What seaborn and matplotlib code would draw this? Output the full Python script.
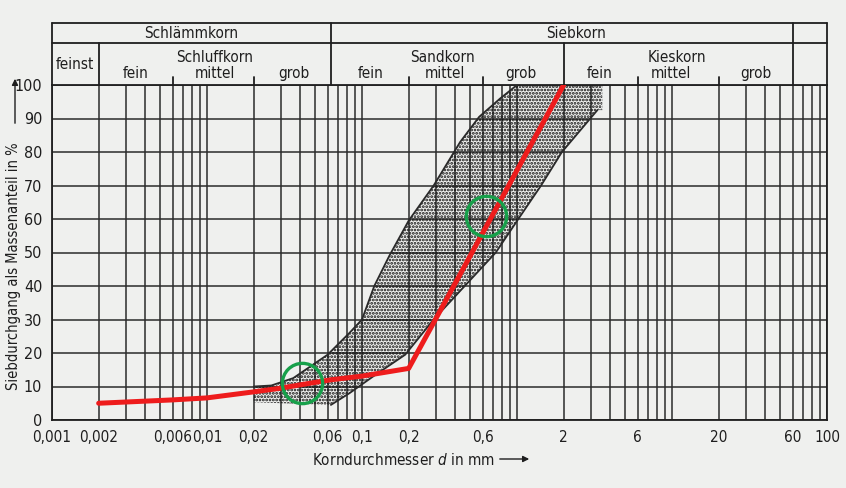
import matplotlib
matplotlib.use("Agg")
import numpy as np
import pandas as pd
import matplotlib.pyplot as plt
from matplotlib.ticker import LogLocator, NullFormatter
import seaborn as sns

# Sieblinie der Probe (rot)
curve_d = [0.002, 0.006, 0.01, 0.02, 0.03, 0.04, 0.063, 0.1, 0.2, 2.0]
curve_p = [5.0, 6.0, 6.6, 8.4, 9.5, 10.5, 12.0, 13.1, 15.4, 100.0]

# Grenzlinien des gerasterten Bereichs
upper_d = [0.02, 0.026, 0.036, 0.06, 0.083, 0.1, 0.12, 0.15, 0.2, 0.29, 0.43, 0.57, 0.78, 1.0]
upper_p = [10.0, 10.3, 12.5, 19.5, 26.0, 30.0, 40.0, 49.0, 59.5, 70.0, 83.0, 90.5, 96.0, 100.0]
lower_d = [0.063, 0.083, 0.118, 0.19, 0.29, 0.46, 0.73, 1.02, 1.43, 1.95, 3.3]
lower_p = [4.5, 8.0, 13.0, 19.5, 30.0, 40.0, 50.0, 60.0, 70.0, 80.0, 92.5]
band_right = 3.55
band_bottom = 5.3

# markierte Punkte (gruene Kreise)
circle_d = [0.041, 0.63]
circle_p = [11.0, 61.0]

x_ticks = [0.001, 0.002, 0.006, 0.01, 0.02, 0.06, 0.1, 0.2, 0.6, 2, 6, 20, 60, 100]
x_labels = ["0,001", "0,002", "0,006", "0,01", "0,02", "0,06", "0,1", "0,2",
            "0,6", "2", "6", "20", "60", "100"]
y_ticks = list(range(0, 101, 10))

# Kopfzeilen der Kornfraktionen
row1_labels = ["Schlämmkorn", "Siebkorn"]
row1_pos = [0.0079, 2.4]
row2_labels = ["Schluffkorn", "Sandkorn", "Kieskorn"]
row2_pos = [0.0112, 0.33, 10.8]
row3_labels = ["fein", "mittel", "grob", "fein", "mittel", "grob", "fein", "mittel", "grob"]
row3_pos = [0.00345, 0.0112, 0.0365, 0.113, 0.345, 1.06, 3.43, 9.8, 34.7]
full_bounds = [0.063, 60]
half_bounds = [0.002, 2]
sub_ticks = [0.006, 0.02, 0.2, 0.6, 6, 20]

sns.set_theme(style="white")
plt.rcParams["font.family"] = ["DejaVu Sans"]
plt.rcParams["font.stretch"] = "condensed"
plt.rcParams["hatch.linewidth"] = 1.35
bg = "#eff0ee"
ink = "#1e1e1e"
fs = 11

fig = plt.figure(figsize=(8.46, 4.88), dpi=100, facecolor=bg)
ax = fig.add_axes([52 / 846, 68 / 488, 775 / 846, 335 / 488])
ax.set_facecolor(bg)

ax.set_xscale("log")
ax.set_xlim(0.001, 100)
ax.set_ylim(0, 100)
ax.set_xticks(x_ticks)
ax.set_xticklabels(x_labels, fontsize=11)
ax.xaxis.set_minor_locator(LogLocator(base=10, subs=np.arange(1, 10), numticks=20))
ax.xaxis.set_minor_formatter(NullFormatter())
ax.set_yticks(y_ticks)
ax.set_yticklabels([str(v) for v in y_ticks], fontsize=11.5)
ax.tick_params(axis="x", which="both", length=0, pad=7, colors=ink)
ax.tick_params(axis="y", which="both", length=0, pad=7, colors=ink)
ax.grid(which="both", axis="x", color="#2b2b2b", lw=1.1)
ax.grid(which="major", axis="y", color="#2b2b2b", lw=1.1)
for sp in ax.spines.values():
    sp.set_color(ink)
    sp.set_linewidth(1.3)

# gerasterter Bereich
band_x = upper_d + [band_right, band_right] + lower_d[::-1] + [0.02]
band_y = upper_p + [100, lower_p[-1]] + lower_p[::-1] + [band_bottom]
ax.fill(band_x, band_y, facecolor="none", edgecolor="#111111", hatch=".....", lw=0, zorder=2)
ax.plot(upper_d, upper_p, color="#2a2a2a", lw=1.3, zorder=3)
ax.plot(lower_d, lower_p, color="#2a2a2a", lw=1.3, zorder=3)

# Sieblinie
df = pd.DataFrame({"d": curve_d, "p": curve_p})
sns.lineplot(data=df, x="d", y="p", sort=False, color="#ee1c1c", lw=3.6, ax=ax, zorder=4)
ax.plot(circle_d, circle_p, ls="none", marker="o", ms=29, mfc="none",
        mec="#17a04a", mew=2.4, zorder=5)
ax.set_xlabel("")
ax.set_ylabel("")

# Kopf der Tabelle
tr = ax.get_xaxis_transform()
y_top, y_mid = 1.185, 1.1254
kw = dict(transform=tr, clip_on=False, color=ink, lw=1.3)
ax.plot([0.001, 100], [y_top, y_top], **kw)
ax.plot([0.001, 100], [y_mid, y_mid], **kw)
for xb in [0.001, 100] + full_bounds:
    ax.plot([xb, xb], [1.0, y_top], **kw)
for xb in half_bounds:
    ax.plot([xb, xb], [1.0, y_mid], **kw)
for xb in sub_ticks:
    ax.plot([xb, xb], [1.0, 1.024], **kw)

hkw = dict(transform=tr, ha="center", va="center", fontsize=fs, color=ink)
for lab, xp in zip(row1_labels, row1_pos):
    ax.text(xp, 1.155, lab, **hkw)
for lab, xp in zip(row2_labels, row2_pos):
    ax.text(xp, 1.081, lab, **hkw)
for lab, xp in zip(row3_labels, row3_pos):
    ax.text(xp, 1.035, lab, **hkw)
ax.text(0.00141, 1.06, "feinst", **hkw)

# Achsentitel mit Pfeilen
fig.text(14 / 846, 1 - 266 / 488, "Siebdurchgang als Massenanteil in %", rotation=90,
         ha="center", va="center", fontsize=10.5, color=ink)
ax.annotate("", xy=(15 / 846, 1 - 76 / 488), xytext=(15 / 846, 1 - 126 / 488),
            xycoords="figure fraction", textcoords="figure fraction",
            arrowprops=dict(arrowstyle="-|>", lw=1.0, color=ink, mutation_scale=9))
fig.text(312 / 846, 1 - 460 / 488, "Korndurchmesser $\\mathit{d}$ in mm", ha="left",
         va="center", fontsize=fs, color=ink)
ax.annotate("", xy=(532 / 846, 1 - 459 / 488), xytext=(497 / 846, 1 - 459 / 488),
            xycoords="figure fraction", textcoords="figure fraction",
            arrowprops=dict(arrowstyle="-|>", lw=1.0, color=ink, mutation_scale=9))

fig.savefig("out.png", dpi=100, facecolor=bg)
